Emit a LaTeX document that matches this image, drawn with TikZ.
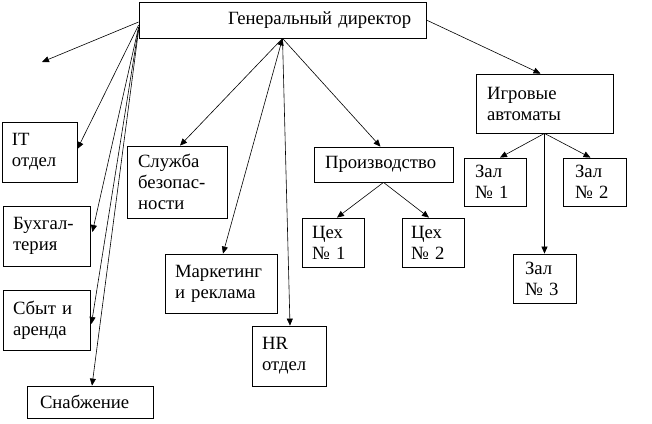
\documentclass[tikz,border=0pt]{standalone}
\usepackage{fontspec}
\setmainfont{Liberation Serif}
\usetikzlibrary{arrows.meta}

\newcommand{\orgfont}{\fontsize{18.7}{21}\selectfont\hyphenpenalty=10000}

\tikzset{
    unit/.style={draw, line width=0.8pt, align=left, inner xsep=10pt, inner ysep=0pt, font=\orgfont},
    link/.style={-{Triangle[length=7pt,width=6pt]}, line width=0.6pt},
    twolink/.style={{Triangle[length=7pt,width=6pt]}-{Triangle[length=7pt,width=6pt]}, line width=0.6pt},
}

\begin{document}
\begin{tikzpicture}[x=1pt, y=-1pt]
            \useasboundingbox (0, 0) rectangle (652, 423);
            \node[unit, text width=269, inner xsep=9pt, minimum height=36] (gd) at (282.5, 20) {\hspace*{80pt}Генеральный директор};
            \node[unit, text width=55, minimum height=60] (it) at (39.5, 152) {IT\\отдел};
            \node[unit, text width=67, minimum height=60] (buh) at (46.5, 236) {Бухгал-\\терия};
            \node[unit, text width=67, minimum height=60] (sbyt) at (46.5, 320) {Сбыт и\\аренда};
            \node[unit, text width=100, inner xsep=13pt, minimum height=32] (snab) at (90, 402) {Снабжение};
            \node[unit, text width=78, inner xsep=11pt, minimum height=72] (sluzhba) at (177, 182) {Служба\\безопас-\\ности};
            \node[unit, text width=92, minimum height=59] (market) at (221, 283.5) {Маркетинг\\и реклама};
            \node[unit, text width=54, minimum height=60] (hr) at (289, 356) {HR\\отдел};
            \node[unit, text width=117, inner xsep=11pt, minimum height=35] (proizv) at (383.5, 164.5) {Производство};
            \node[unit, text width=42, minimum height=49] (ceh1) at (333, 242.5) {Цех\\№ 1};
            \node[unit, text width=44, inner xsep=9pt, minimum height=49] (ceh2) at (433, 242.5) {Цех\\№ 2};
            \node[unit, text width=115, inner xsep=11pt, minimum height=59] (igr) at (544.5, 103.5) {Игровые\\автоматы};
            \node[unit, text width=40, inner xsep=11pt, minimum height=48] (zal1) at (495, 182) {Зал\\№ 1};
            \node[unit, text width=39, inner xsep=12pt, minimum height=48] (zal2) at (594.5, 182) {Зал\\№ 2};
            \node[unit, text width=39, inner xsep=12pt, minimum height=49] (zal3) at (544.5, 278.5) {Зал\\№ 3};
            \coordinate (loose) at (42, 62);
            \draw[link] ([yshift=-2pt]gd.west) -- (loose);
            \draw[link] ([yshift=-5pt]gd.west) -- ([yshift=3pt]it.east);
            \draw[link] ([yshift=-7pt]gd.west) -- ([xshift=2pt, yshift=4pt]buh.east);
            \draw[link] ([yshift=-8pt]gd.west) -- ([xshift=1pt, yshift=-4pt]sbyt.east);
            \draw[link] ([yshift=-10pt]gd.west) -- ([xshift=2pt]snab.north);
            \draw[link] (gd.south) -- ([xshift=3pt]sluzhba.north);
            \draw[twolink] (gd.south) -- ([xshift=2pt]market.north);
            \draw[link] (gd.south) -- ([xshift=1pt]hr.north);
            \draw[link] (gd.south) -- ([xshift=-3pt]proizv.north);
            \draw[link] (gd.east) -- ([xshift=-4pt]igr.north);
            \draw[link] (proizv.south) -- ([xshift=4pt]ceh1.north);
            \draw[link] (proizv.south) -- ([xshift=-4pt]ceh2.north);
            \draw[link] (igr.south) -- ([xshift=5pt]zal1.north);
            \draw[link] (igr.south) -- ([xshift=-4pt]zal2.north);
            \draw[link] (igr.south) -- (zal3.north);
        \end{tikzpicture}
\end{document}
